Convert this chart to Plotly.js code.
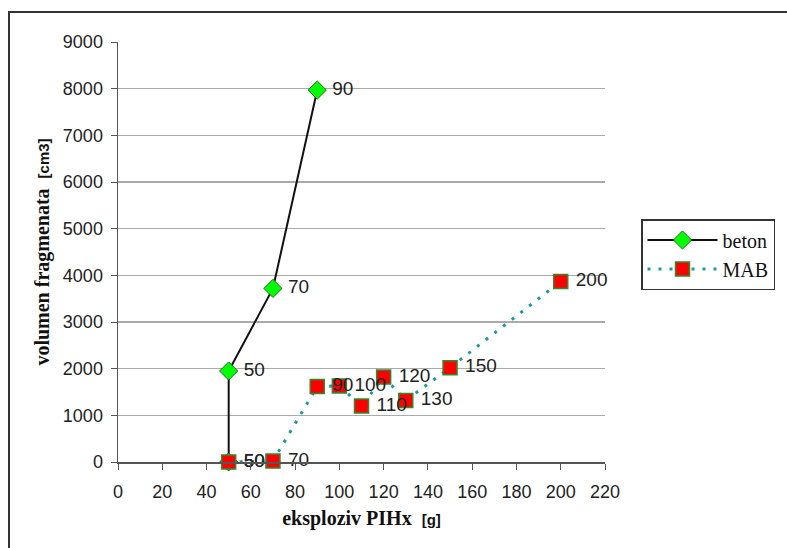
<!DOCTYPE html>
<html>
<head>
<meta charset="utf-8">
<script src="https://cdn.plot.ly/plotly-3.0.1.min.js"></script>
<style>
html,body{margin:0;padding:0;background:#fff;}
#chart{width:787px;height:548px;}
</style>
</head>
<body>
<div id="chart"></div>
<script>
// Data
const betonX = [50, 50, 70, 90];
const betonY = [0, 1950, 3720, 7970];
const betonLabels = ["50", "50", "70", "90"];

const mabX = [50, 70, 90, 100, 110, 120, 130, 150, 200];
const mabY = [0, 20, 1620, 1630, 1200, 1820, 1320, 2020, 3870];
const mabLabels = ["50", "70", "90", "100", "110", "120", "130", "150", "200"];

const xTicks = [0, 20, 40, 60, 80, 100, 120, 140, 160, 180, 200, 220];
const yTicks = [0, 1000, 2000, 3000, 4000, 5000, 6000, 7000, 8000, 9000];

const labelFont = {family: "Liberation Sans, Arial, sans-serif", size: 19, color: "#222"};
const tickFont = {family: "Liberation Sans, Arial, sans-serif", size: 18, color: "#222"};
const titleFont = {family: "Liberation Serif, Times New Roman, serif", size: 20, color: "#111"};

const traces = [
  {
    name: "beton",
    x: betonX, y: betonY, text: betonLabels,
    texttemplate: " %{text}",
    mode: "lines+markers+text",
    textposition: "middle right",
    textfont: labelFont,
    line: {color: "#111", width: 2},
    marker: {symbol: "diamond", size: 14, color: "#00ff00", line: {color: "#226622", width: 1}},
    cliponaxis: false
  },
  {
    name: "MAB",
    x: mabX, y: mabY, text: mabLabels,
    texttemplate: " %{text}",
    mode: "lines+markers+text",
    textposition: "middle right",
    textfont: labelFont,
    line: {color: "#1a9a9a", width: 3, dash: "3px,8px"},
    marker: {symbol: "square", size: 14, color: "#ff0000", line: {color: "#2e8b2e", width: 1.5}},
    cliponaxis: false
  }
];

const L = 118, R = 605, T = 42, B = 462, W = 787, H = 548;
const pw = R - L, ph = B - T;
const px = v => (v - L) / pw;
const py = v => (B - v) / ph;

const layout = {
  width: W, height: H,
  margin: {l: L, r: W - R, t: T, b: H - B, pad: 0},
  paper_bgcolor: "#fff",
  plot_bgcolor: "#fff",
  showlegend: true,
  legend: {
    x: px(641), y: py(219), xanchor: "left", yanchor: "top",
    bordercolor: "#333", borderwidth: 1.5, bgcolor: "#fff",
    font: {family: "Liberation Serif, Times New Roman, serif", size: 20, color: "#111"},
    tracegroupgap: 0, itemwidth: 70
  },
  xaxis: {
    range: [0, 220],
    tickvals: xTicks, ticktext: xTicks.map(String),
    showgrid: false, zeroline: false,
    showline: true, linecolor: "#555", linewidth: 1.5,
    ticks: "outside", ticklen: 6, tickcolor: "#555",
    ticklabelstandoff: 7,
    tickfont: tickFont,
    title: {text: "<b>eksploziv PIHx</b>  <b><span style='font-family:Liberation Sans;font-size:15px'>[g]</span></b>",
            font: titleFont, standoff: 10}
  },
  yaxis: {
    range: [0, 9000],
    tickvals: yTicks, ticktext: yTicks.map(String),
    showgrid: true, gridcolor: "#aaa", gridwidth: 1.5,
    zeroline: false,
    showline: true, linecolor: "#555", linewidth: 1.5,
    ticks: "outside", ticklen: 6, tickcolor: "#555",
    ticklabelstandoff: 4,
    tickfont: tickFont,
    title: {text: "<b>volumen fragmenata</b>  <b><span style='font-family:Liberation Sans;font-size:15px'>[cm3]</span></b>",
            font: titleFont, standoff: 8}
  },
  shapes: [
    {type: "rect", xref: "paper", yref: "paper",
     x0: px(9), x1: px(800), y0: py(560), y1: py(12),
     line: {color: "#333", width: 2}, fillcolor: "rgba(0,0,0,0)", layer: "below"}
  ]
};

Plotly.newPlot("chart", traces, layout, {displayModeBar: false, staticPlot: true});
</script>
</body>
</html>
